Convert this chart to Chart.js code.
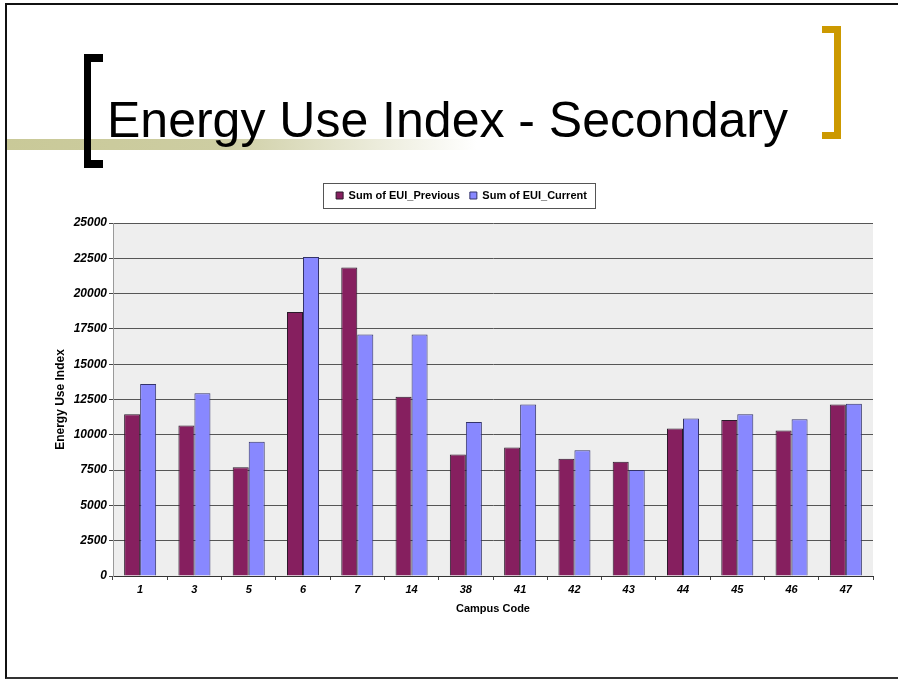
<!DOCTYPE html>
<html>
<head>
<meta charset="utf-8">
<script src="https://cdn.jsdelivr.net/npm/chart.js@4.4.1/dist/chart.umd.min.js"></script>
<style>
    html, body {
        margin: 0;
        padding: 0;
        background: #ffffff;
    }

    #slide {
        position: relative;
        width: 898px;
        height: 679px;
        overflow: hidden;
        font-family: "Liberation Sans", Arial, sans-serif;
    }

    #frame {
        position: absolute;
        left: 5px;
        top: 3px;
        width: 900px;
        height: 672px;
        border-top: 2px solid #111;
        border-left: 2px solid #111;
        border-bottom: 2px solid #333;
    }

    #band {
        position: absolute;
        left: 7px;
        top: 139px;
        width: 470px;
        height: 11px;
        background: linear-gradient(to right, #c9c998 0%, #cdcda2 45%, #ffffff 100%);
    }

    #bracket-left {
        position: absolute;
        left: 84px;
        top: 54px;
        width: 12px;
        height: 98px;
        border-left: 7px solid #000;
        border-top: 8px solid #000;
        border-bottom: 8px solid #000;
    }

    #bracket-right {
        position: absolute;
        left: 822px;
        top: 26px;
        width: 12px;
        height: 99px;
        border-right: 7px solid #cc9900;
        border-top: 7px solid #cc9900;
        border-bottom: 7px solid #cc9900;
    }

    #title {
        position: absolute;
        left: 107px;
        top: 95px;
        font-size: 50px;
        line-height: 50px;
        color: #000;
        white-space: nowrap;
    }

    #eui {
        position: absolute;
        left: 0;
        top: 0;
    }
</style>
</head>
<body>
<div id="slide">
    <div id="frame"></div>
    <div id="band"></div>
    <div id="bracket-left"></div>
    <div id="bracket-right"></div>
    <div id="title">Energy Use Index - Secondary</div>
    <canvas id="eui" width="898" height="679"></canvas>
</div>

<script>
// Data
const campusCodes = ["1", "3", "5", "6", "7", "14", "38", "41", "42", "43", "44", "45", "46", "47"];

const euiPrevious = [11450, 10650, 7700, 18700, 21850, 12700, 8600, 9100, 8300, 8100, 10450, 11050, 10300, 12150];

const euiCurrent = [13600, 12950, 9500, 22600, 17100, 17100, 10900, 12150, 8900, 7500, 11150, 11450, 11100, 12200];

const yTicks = [0, 2500, 5000, 7500, 10000, 12500, 15000, 17500, 20000, 22500, 25000];

Chart.defaults.font.family = "'Liberation Sans', Arial, sans-serif";
Chart.defaults.color = "#000";

// Gray plot background
const plotBackground = {
    id: "plotBackground",
    beforeDraw(chart) {
        const { ctx, chartArea } = chart;
        ctx.save();
        ctx.fillStyle = "#eeeeee";
        ctx.fillRect(chartArea.left, chartArea.top,
            chartArea.right - chartArea.left, chartArea.bottom - chartArea.top);
        ctx.restore();
    }
};

// Extra space under the legend, and a frame around it
const legendBox = {
    id: "legendBox",
    beforeInit(chart) {
        const fit = chart.legend.fit;
        chart.legend.fit = function () {
            fit.bind(chart.legend)();
            this.height += 12;
        };
    },
    afterDraw(chart) {
        const boxes = chart.legend.legendHitBoxes;
        if (!boxes || boxes.length === 0) return;
        const left = Math.min(...boxes.map(b => b.left)) - 13;
        const right = Math.max(...boxes.map(b => b.left + b.width)) + 8;
        const top = boxes[0].top - 7;
        const bottom = boxes[0].top + boxes[0].height + 7;
        const ctx = chart.ctx;
        ctx.save();
        ctx.strokeStyle = "#555";
        ctx.lineWidth = 1;
        ctx.strokeRect(Math.round(left) + 0.5, Math.round(top) + 0.5,
            Math.round(right - left), Math.round(bottom - top));
        ctx.restore();
    }
};

// Chart Setup
const ctx = document.getElementById("eui").getContext("2d");

const euiChart = new Chart(ctx, {
    type: "bar",
    data: {
        labels: campusCodes,
        datasets: [
            {
                label: "Sum of EUI_Previous",
                data: euiPrevious,
                backgroundColor: "#861f5f",
                borderColor: "#2a1a2a",
                borderWidth: 1,
                categoryPercentage: 0.59,
                barPercentage: 1.0
            },
            {
                label: "Sum of EUI_Current",
                data: euiCurrent,
                backgroundColor: "#8888ff",
                borderColor: "#33336a",
                borderWidth: 1,
                categoryPercentage: 0.59,
                barPercentage: 1.0
            }
        ]
    },
    plugins: [plotBackground, legendBox],
    options: {
        responsive: false,
        animation: false,
        devicePixelRatio: 1,
        layout: {
            padding: { left: 50, right: 25, top: 180, bottom: 60 }
        },
        plugins: {
            tooltip: { enabled: false },
            legend: {
                position: "top",
                labels: {
                    boxWidth: 7,
                    boxHeight: 7,
                    padding: 10,
                    color: "#000",
                    font: { size: 11, weight: "bold" }
                }
            }
        },
        scales: {
            x: {
                afterFit(scale) {
                    scale.height = 43;
                },
                grid: {
                    display: true,
                    drawOnChartArea: false,
                    drawTicks: true,
                    tickLength: 4,
                    tickColor: "#444",
                    offset: true
                },
                border: {
                    display: true,
                    color: "#333",
                    width: 1
                },
                ticks: {
                    color: "#000",
                    padding: 3,
                    maxRotation: 0,
                    font: { size: 11, weight: "bold", style: "italic" }
                },
                title: {
                    display: true,
                    text: "Campus Code",
                    color: "#000",
                    padding: { top: 0, bottom: 3 },
                    font: { size: 11, weight: "bold" }
                }
            },
            y: {
                min: 0,
                max: 25000,
                afterFit(scale) {
                    scale.width = 63;
                },
                afterBuildTicks(scale) {
                    scale.ticks = yTicks.map(v => ({ value: v }));
                },
                grid: {
                    color: "#555",
                    lineWidth: 1,
                    drawTicks: true,
                    tickLength: 4,
                    tickColor: "#444"
                },
                border: {
                    display: true,
                    color: "#999",
                    width: 1
                },
                ticks: {
                    color: "#000",
                    padding: 2,
                    font: { size: 12, weight: "bold", style: "italic" },
                    callback: value => String(value)
                },
                title: {
                    display: true,
                    text: "Energy Use Index",
                    color: "#000",
                    padding: { top: 3, bottom: 0 },
                    font: { size: 12, weight: "bold" }
                }
            }
        }
    }
});
</script>
</body>
</html>
